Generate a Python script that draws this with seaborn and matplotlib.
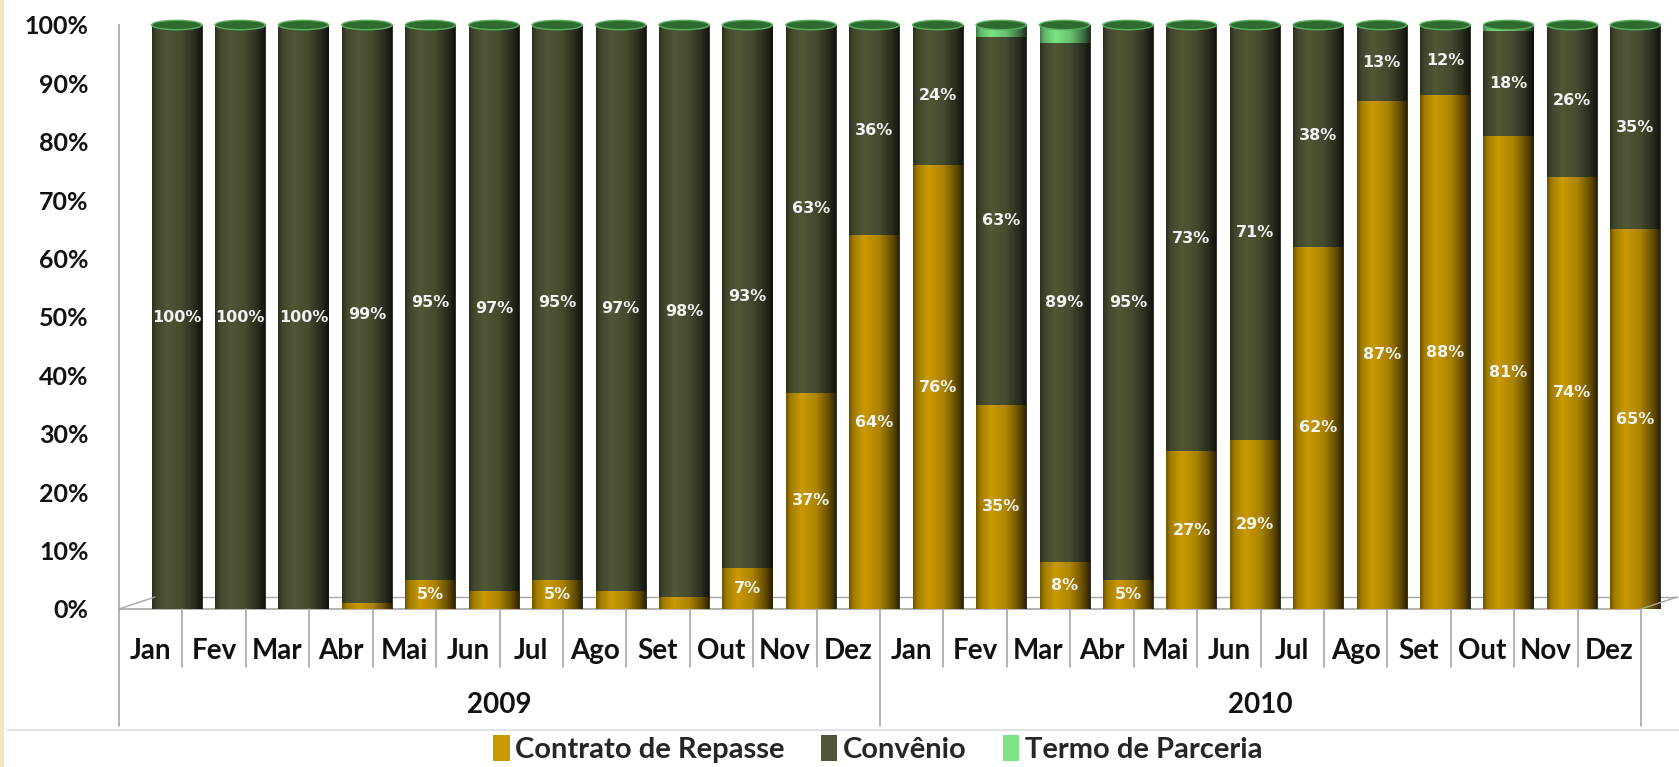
import numpy as np
import pandas as pd
import matplotlib
matplotlib.use("Agg")
import matplotlib.pyplot as plt
import matplotlib.transforms as mtransforms
from matplotlib.patches import Ellipse, Patch
from matplotlib.lines import Line2D
import seaborn as sns

# ---- data ----
MONTHS = ["Jan", "Fev", "Mar", "Abr", "Mai", "Jun",
          "Jul", "Ago", "Set", "Out", "Nov", "Dez"]
YEARS = ["2009", "2010"]
SERIES = ["Contrato de Repasse", "Convênio", "Termo de Parceria"]

contrato = [0, 0, 0, 1, 5, 3, 5, 3, 2, 7, 37, 64,
            76, 35, 8, 5, 27, 29, 62, 87, 88, 81, 74, 65]
convenio = [100, 100, 100, 99, 95, 97, 95, 97, 98, 93, 63, 36,
            24, 63, 89, 95, 73, 71, 38, 13, 12, 18, 26, 35]
termo = [0, 0, 0, 0, 0, 0, 0, 0, 0, 0, 0, 0,
         0, 2, 3, 0, 0, 0, 0, 0, 0, 1, 0, 0]

STYLE = {
    "Contrato de Repasse": "#C99A00",
    "Convênio":            "#4F5736",
    "Termo de Parceria":   "#7BE383",
    "cap":                 "#2F6A30",
    "cap_edge":            "#58B05E",
    "axis":                "#A6A6A6",
    "text":                "#111111",
    "label":               "#F2F2F2",
}
FONT = ["Lato", "DejaVu Sans"]
BAR_W = 0.79      # bar width in category units
SHIFT = 0.41      # 3D depth shift of bars vs. category slots

keys = [f"{y}-{m}" for y in YEARS for m in MONTHS]
values = {"Contrato de Repasse": contrato, "Convênio": convenio,
          "Termo de Parceria": termo}
totals = np.array(contrato) + np.array(convenio) + np.array(termo)

# ---- figure ----
sns.set_theme(style="white")
plt.rcParams["font.family"] = FONT
W, H = 1679, 767
Y0, Y1 = 609, 25          # pixel rows of 0% and 100%
fig = plt.figure(figsize=(W / 100, H / 100), dpi=100)
fig.patch.set_facecolor("white")
ax = fig.add_axes([119 / W, 1 - Y0 / H, (1661 - 119) / W, (Y0 - Y1) / H])
ax.set_facecolor("white")

bottom = np.zeros(len(keys))
for name in SERIES:
    share = np.array(values[name]) / totals
    df = pd.DataFrame({"periodo": keys, "share": share})
    sns.barplot(data=df, x="periodo", y="share", order=keys,
                color=STYLE[name], saturation=1, width=BAR_W,
                bottom=bottom, errorbar=None, linewidth=0, ax=ax, zorder=2)
    for i, (v, s, b) in enumerate(zip(values[name], share, bottom)):
        if v >= 5 and name != "Termo de Parceria":
            ax.text(i, b + s / 2, f"{v}%", ha="center", va="center",
                    fontsize=11.5, fontweight="semibold", color=STYLE["label"],
                    family="DejaVu Sans", zorder=5)
    bottom = bottom + share

# cylinder shading + top caps
pos = np.linspace(0, 1, 64)
alpha = np.interp(pos, [0, 0.08, 0.3, 0.6, 0.85, 1], [0.45, 0.2, 0.0, 0.15, 0.5, 0.8])
grad = np.zeros((1, 64, 4))
grad[..., 3] = alpha
for i in range(len(keys)):
    ax.imshow(grad, extent=[i - BAR_W / 2, i + BAR_W / 2, 0, bottom[i]],
              aspect="auto", zorder=3, interpolation="bilinear")
    ax.add_patch(Ellipse((i, bottom[i]), BAR_W, 0.016,
                         facecolor=STYLE["cap"], edgecolor=STYLE["cap_edge"],
                         linewidth=1, zorder=4, clip_on=False))

n = len(keys)
ax.set_xlim(-0.5 - SHIFT, n - 0.5 - SHIFT + 0.315)
ax.set_ylim(0, 1)
ax.set_yticks(np.linspace(0, 1, 11),
              [f"{int(round(t * 100))}%" for t in np.linspace(0, 1, 11)])
ax.set_xticks(np.arange(n) - SHIFT, MONTHS * len(YEARS))
ax.set_xlabel("")
ax.set_ylabel("")
ax.tick_params(axis="y", length=0, pad=22, labelsize=18, colors=STYLE["text"])
ax.tick_params(axis="x", length=0, pad=21, labelsize=20, colors=STYLE["text"])
for lab in ax.get_xticklabels() + ax.get_yticklabels():
    lab.set_fontweight("bold")
for side in ["top", "right", "bottom"]:
    ax.spines[side].set_visible(False)
ax.spines["left"].set_color(STYLE["axis"])
ax.spines["left"].set_linewidth(1.2)

# floor of the 3D box
lo, hi = -0.5 - SHIFT, n - 0.5 - SHIFT
dx, dy = 0.36, 0.12   # depth offset in inches
back = ax.transData + mtransforms.ScaledTranslation(dx, dy, fig.dpi_scale_trans)
ax.plot([lo, hi], [0, 0], color=STYLE["axis"], lw=1.2, clip_on=False, zorder=1)
ax.plot([lo, hi], [0, 0], color=STYLE["axis"], lw=1.0, clip_on=False,
        zorder=1, transform=back)
for x in (lo, hi):
    seg = np.array([[x, 0]])
    p0 = ax.transData.transform(seg)[0]
    p1 = back.transform(seg)[0]
    fig.add_artist(Line2D([p0[0] / W, p1[0] / W], [p0[1] / H, p1[1] / H],
                          transform=fig.transFigure, color=STYLE["axis"], lw=1.0))

# category separators and year labels
xt = ax.get_xaxis_transform()
for b in range(n + 1):
    depth = -0.200 if b % 12 == 0 else -0.1
    ax.plot([b - 0.5 - SHIFT] * 2, [0, depth], color=STYLE["axis"],
            lw=1.2, clip_on=False, transform=xt)
for k, year in enumerate(YEARS):
    ax.text(k * 12 + 5.5 - SHIFT, -0.165, year, transform=xt, ha="center",
            va="center", fontsize=20, fontweight="bold", color=STYLE["text"])

# chart frame bits
fig.add_artist(Line2D([0.004, 1], [1 - 730 / H] * 2, transform=fig.transFigure,
                      color="#DCDCE4", lw=1.2))
fig.add_artist(Line2D([0.001, 0.001], [0, 1], transform=fig.transFigure,
                      color="#EFE8BE", lw=3))

handles = [Patch(facecolor=STYLE[s], edgecolor="none", label=s) for s in SERIES]
fig.legend(handles=handles, loc="center", bbox_to_anchor=(0.523, 1 - 749 / H),
           ncol=3, frameon=False, handlelength=0.55, handleheight=1.0,
           handletextpad=0.2, columnspacing=1.25, borderpad=0.1,
           prop={"family": FONT, "weight": "bold", "size": 21})

fig.savefig("out.png", dpi=100, facecolor="white")
